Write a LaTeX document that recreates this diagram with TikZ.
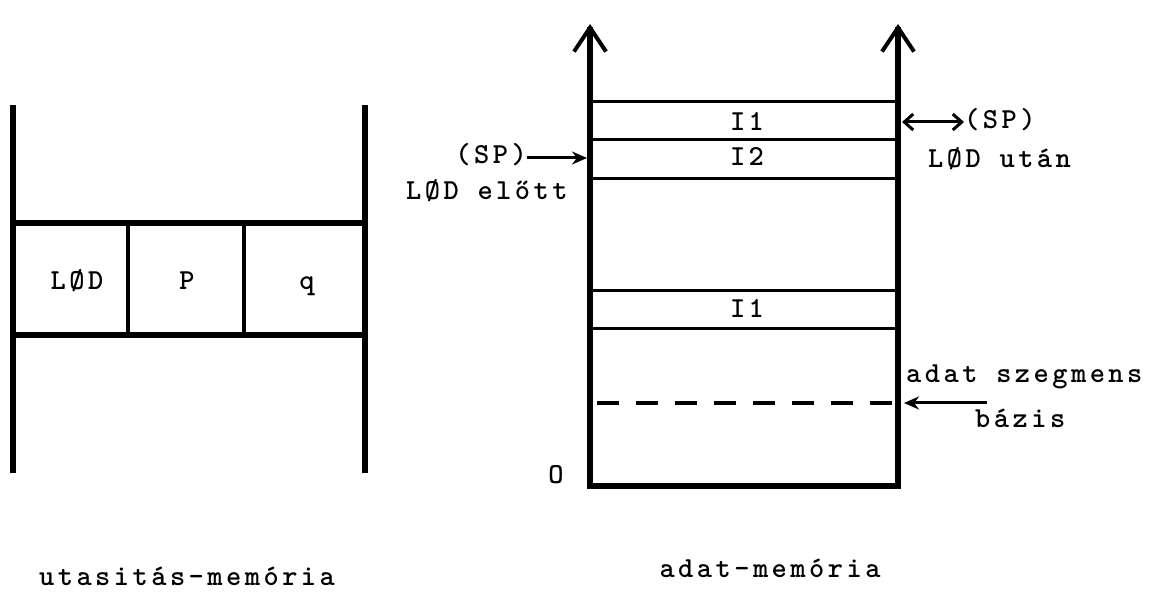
\documentclass[tikz,border=0pt]{standalone}
\usepackage{fontspec}
\newfontfamily\tw{lmmonolt10-bold.otf}[LetterSpace=12]
\usetikzlibrary{arrows.meta}
\begin{document}
\begin{tikzpicture}[x=1pt,y=-1pt,
  wall/.style={line width=6pt,line join=miter,line cap=rect},
  cellline/.style={line width=3.5pt},
  rowline/.style={line width=3pt},
  dashline/.style={line width=3.5pt,dash pattern=on 22pt off 17pt},
  bigarrow/.style={{Straight Barb[length=24pt,width=32pt,line width=4pt]}-{Straight Barb[length=24pt,width=32pt,line width=4pt]}},
  smallarr/.style={line width=3pt,-{Stealth[length=15pt,width=13pt]}},
  dblarr/.style={line width=3pt,{Straight Barb[length=9pt,width=16pt]}-{Straight Barb[length=9pt,width=16pt]}},
  lbl/.style={font=\tw\fontsize{29}{32}\selectfont,inner sep=0pt,anchor=base}
]
\useasboundingbox (0,0) rectangle (1171,593);
% ---------- instruction memory ----------
\draw[wall] (13,108) -- (13,470);
\draw[wall] (365,108) -- (365,470);
\draw[wall] (13,223) -- (365,223);
\draw[wall] (13,335) -- (365,335);
\draw[cellline] (128,223) -- (128,335);
\draw[cellline] (244,223) -- (244,335);
\node[lbl] (lod) at (77,290) {LØD};
\node[lbl] (p) at (187,290) {P};
\node[lbl] (q) at (307,290) {q};
\node[lbl] (capl) at (187,585) {utasitás-memória};
% ---------- data memory ----------
\draw[wall,bigarrow] (590,24) -- (590,486) -- (898,486) -- (898,24);
\draw[rowline] (590,102) -- (898,102);
\draw[rowline] (590,140) -- (898,140);
\draw[rowline] (590,179) -- (898,179);
\draw[rowline] (590,291) -- (898,291);
\draw[rowline] (590,329) -- (898,329);
\draw[dashline] (597,403) -- (895,403);
\node[lbl] (i1a) at (747,131) {I1};
\node[lbl] (i2) at (747,166) {I2};
\node[lbl] (i1b) at (747,318) {I1};
\node[lbl] (zero) at (556,484) {O};
\node[lbl] (capr) at (770,577) {adat-memória};
% SP before
\node[lbl,anchor=east] (spl) at (527,155) {(SP)};
\node[lbl,anchor=base west] (elott) at (406,200) {LØD előtt};
\coordinate (spltip) at (587,158);
\draw[smallarr] (spl.east |- spltip) -- (spltip);
% SP after
\coordinate (sprtail) at (902,122);
\node[lbl,anchor=west] (spr) at (964,120) {(SP)};
\draw[dblarr] (sprtail) -- (spr.west |- sprtail);
\node[lbl,anchor=base west] (utan) at (928,168) {LØD után};
% segment base
\node[lbl,anchor=base west] (adat) at (906,383) {adat szegmens};
\node[lbl,anchor=base west] (bazis) at (975,428) {bázis};
\coordinate (basetip) at (904,403);
\coordinate (basetail) at (987,403);
\draw[smallarr] (basetail) -- (basetip);
\end{tikzpicture}
\end{document}
